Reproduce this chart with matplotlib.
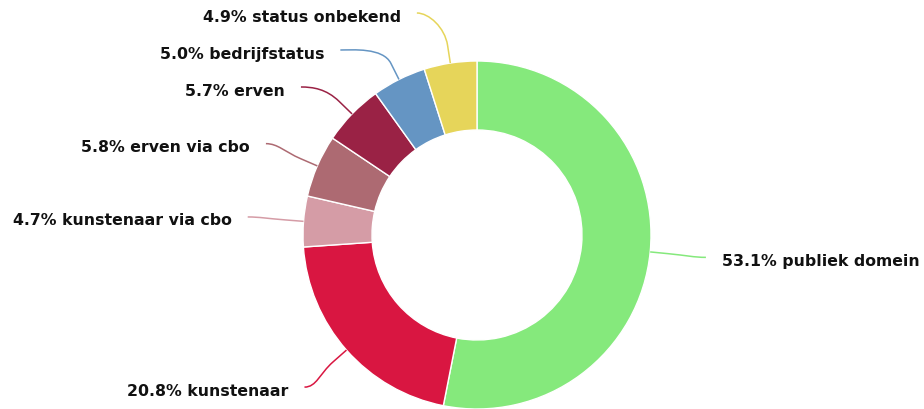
import numpy as np
import matplotlib.pyplot as plt
from matplotlib.path import Path
from matplotlib.patches import PathPatch

# data (clockwise from 12 o'clock)
labels = ['publiek domein', 'kunstenaar', 'kunstenaar via cbo', 'erven via cbo',
          'erven', 'bedrijfstatus', 'status onbekend']
shares = [53.1, 20.8, 4.7, 5.8, 5.7, 5.0, 4.9]
colors = ['#85E97C', '#D91641', '#D59CA6', '#AD6A72', '#9A2245', '#6595C3', '#E6D55A']

# layout in pixels (y up)
W, H = 924, 410
cx, cy = 477, 174
R, hole = 174, 105
lab_r = 230      # radius where connectors end
brk = R + 18     # connector break point
gap = 37         # min vertical distance between labels
top = H - 14

fig = plt.figure(figsize=(W / 100, H / 100), dpi=100)
ax = fig.add_axes([0, 0, 1, 1])
ax.pie(shares, colors=colors, startangle=90, counterclock=False, radius=R,
       center=(cx, cy), wedgeprops=dict(width=R - hole, edgecolor='white', linewidth=1))
ax.set_xlim(0, W)
ax.set_ylim(0, H)
ax.set_aspect('equal')
ax.axis('off')

# mid angle of every slice
cum = np.cumsum(shares) - np.array(shares) / 2
theta = np.pi / 2 - 2 * np.pi * cum / 100

# natural label heights, then push apart on each side
ys = cy + lab_r * np.sin(theta)
for side in (1, -1):
    idx = [i for i in range(len(shares)) if np.sign(np.cos(theta[i])) == side]
    idx.sort(key=lambda i: -ys[i])
    prev = None
    for i in idx:
        y = min(ys[i], top)
        if prev is not None:
            y = min(y, prev - gap)
        ys[i] = y
        prev = y

for i, lab in enumerate(labels):
    s = 1 if np.cos(theta[i]) > 0 else -1
    y = ys[i]
    x = cx + s * np.sqrt(max(lab_r ** 2 - (y - cy) ** 2, 0))
    tx, ty = cx + R * np.cos(theta[i]), cy + R * np.sin(theta[i])
    bx, by = cx + brk * np.cos(theta[i]), cy + brk * np.sin(theta[i])
    verts = [(x, y), (x - s * 12, y), (2 * bx - tx, 2 * by - ty), (bx, by), (tx, ty)]
    codes = [Path.MOVETO, Path.CURVE4, Path.CURVE4, Path.CURVE4, Path.LINETO]
    ax.add_patch(PathPatch(Path(verts, codes), fill=False, edgecolor=colors[i], lw=1.1))
    ax.text(x + s * 16, y - 3, f'{shares[i]:.1f}% {lab}',
            ha='left' if s > 0 else 'right', va='center',
            fontsize=11.3, fontweight='bold', color='#111111', family='DejaVu Sans')

fig.savefig('out.png', dpi=100)
